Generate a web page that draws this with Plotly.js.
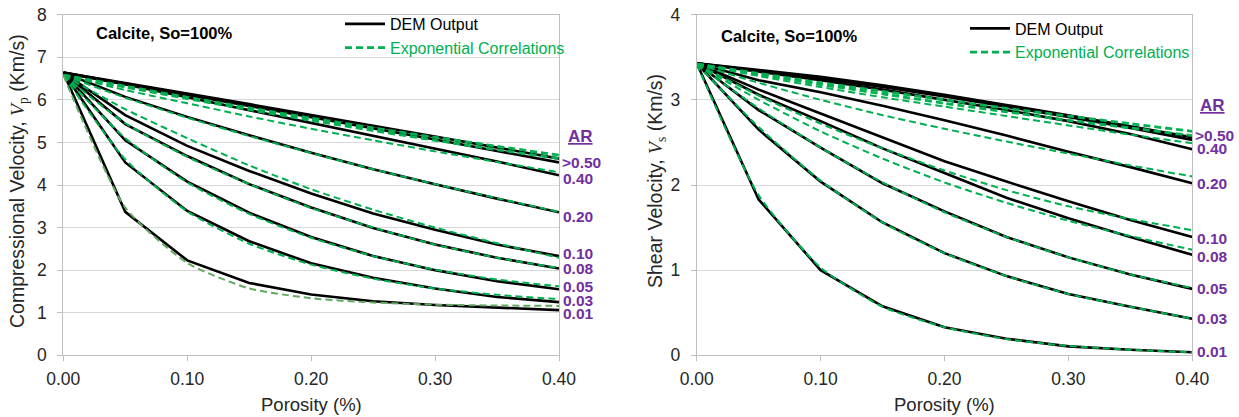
<!DOCTYPE html>
<html>
<head>
<meta charset="utf-8">
<script src="https://cdn.plot.ly/plotly-3.0.1.min.js"></script>
<style>html,body{margin:0;padding:0;background:#fff;}#chart{width:1239px;height:417px;}</style>
</head>
<body>
<div id="chart"></div>
<script>
// ---------- data ----------
const porosity = [0, 0.05, 0.10, 0.15, 0.20, 0.25, 0.30, 0.35, 0.40];

// Compressional velocity, DEM output (km/s)
const vpDem_AR100 = [6.64, 6.40, 6.15, 5.90, 5.64, 5.39, 5.14, 4.88, 4.62];
const vpDem_AR050 = [6.64, 6.38, 6.12, 5.86, 5.60, 5.33, 5.07, 4.80, 4.53];
const vpDem_AR040 = [6.64, 6.36, 6.06, 5.76, 5.46, 5.16, 4.86, 4.55, 4.23];
const vpDem_AR020 = [6.64, 6.07, 5.60, 5.17, 4.76, 4.37, 4.02, 3.68, 3.36];
const vpDem_AR010 = [6.64, 5.64, 4.92, 4.33, 3.80, 3.33, 2.95, 2.60, 2.33];
const vpDem_AR008 = [6.64, 5.43, 4.68, 4.02, 3.47, 2.99, 2.60, 2.29, 2.04];
const vpDem_AR005 = [6.64, 5.05, 4.08, 3.35, 2.78, 2.33, 2.00, 1.74, 1.55];
const vpDem_AR003 = [6.64, 4.53, 3.39, 2.68, 2.16, 1.82, 1.57, 1.37, 1.25];
const vpDem_AR001 = [6.64, 3.37, 2.23, 1.70, 1.43, 1.27, 1.18, 1.12, 1.06];

// Compressional velocity, exponential correlations (km/s)
const vpExp_AR100 = [6.58, 6.32, 6.06, 5.81, 5.57, 5.34, 5.12, 4.91, 4.70];
const vpExp_AR050 = [6.58, 6.30, 6.03, 5.77, 5.52, 5.28, 5.05, 4.83, 4.62];
const vpExp_AR040 = [6.58, 6.23, 5.92, 5.61, 5.32, 5.05, 4.79, 4.54, 4.30];
const vpExp_AR020 = [6.58, 6.05, 5.58, 5.15, 4.75, 4.37, 4.02, 3.69, 3.37];
const vpExp_AR010 = [6.58, 5.78, 5.10, 4.46, 3.90, 3.42, 3.00, 2.63, 2.29];
const vpExp_AR008 = [6.58, 5.45, 4.66, 4.02, 3.46, 3.00, 2.60, 2.29, 2.05];
const vpExp_AR005 = [6.58, 5.10, 4.06, 3.32, 2.76, 2.33, 2.01, 1.78, 1.62];
const vpExp_AR003 = [6.58, 4.60, 3.38, 2.62, 2.13, 1.80, 1.57, 1.42, 1.32];
const vpExp_AR001 = [6.58, 3.47, 2.17, 1.57, 1.34, 1.24, 1.19, 1.17, 1.16];

// Shear velocity, DEM output (km/s)
const vsDem_AR100 = [3.43, 3.35, 3.27, 3.17, 3.06, 2.94, 2.82, 2.69, 2.56];
const vsDem_AR050 = [3.43, 3.34, 3.25, 3.15, 3.04, 2.92, 2.80, 2.67, 2.53];
const vsDem_AR040 = [3.43, 3.33, 3.23, 3.12, 3.00, 2.88, 2.75, 2.60, 2.42];
const vsDem_AR020 = [3.43, 3.23, 3.09, 2.93, 2.76, 2.58, 2.39, 2.21, 2.02];
const vsDem_AR010 = [3.43, 3.12, 2.84, 2.56, 2.28, 2.04, 1.81, 1.59, 1.39];
const vsDem_AR008 = [3.43, 3.06, 2.75, 2.43, 2.14, 1.85, 1.61, 1.39, 1.18];
const vsDem_AR005 = [3.43, 2.88, 2.44, 2.02, 1.69, 1.39, 1.15, 0.95, 0.78];
const vsDem_AR003 = [3.43, 2.65, 2.04, 1.56, 1.20, 0.93, 0.72, 0.57, 0.43];
const vsDem_AR001 = [3.43, 1.83, 1.00, 0.575, 0.33, 0.195, 0.105, 0.065, 0.035];

// Shear velocity, exponential correlations (km/s)
const vsExp_AR100 = [3.42, 3.31, 3.20, 3.10, 3.00, 2.90, 2.81, 2.72, 2.63];
const vsExp_AR050 = [3.42, 3.30, 3.18, 3.07, 2.96, 2.86, 2.76, 2.67, 2.58];
const vsExp_AR040 = [3.42, 3.28, 3.15, 3.03, 2.92, 2.81, 2.70, 2.59, 2.49];
const vsExp_AR020 = [3.42, 3.20, 3.00, 2.82, 2.66, 2.51, 2.37, 2.23, 2.10];
const vsExp_AR010 = [3.42, 3.05, 2.72, 2.43, 2.17, 1.94, 1.75, 1.60, 1.47];
const vsExp_AR008 = [3.42, 3.00, 2.63, 2.31, 2.03, 1.79, 1.58, 1.40, 1.24];
const vsExp_AR005 = [3.42, 2.90, 2.44, 2.03, 1.68, 1.39, 1.15, 0.95, 0.79];
const vsExp_AR003 = [3.42, 2.68, 2.05, 1.56, 1.20, 0.93, 0.72, 0.57, 0.43];
const vsExp_AR001 = [3.42, 1.88, 1.03, 0.57, 0.33, 0.19, 0.11, 0.065, 0.035];

const arLabels = ['>0.50', '0.40', '0.20', '0.10', '0.08', '0.05', '0.03', '0.01'];
const vpLabelY = [4.54, 4.15, 3.27, 2.40, 2.04, 1.61, 1.29, 0.98];
const vsLabelY = [2.585, 2.43, 2.02, 1.374, 1.158, 0.788, 0.436, 0.045];

// ---------- styling ----------
const GREEN = '#00b050';
const GREEN_DARK = '#62a862';
const PURPLE = '#7030a0';
const SANS = '"Liberation Sans", Arial, sans-serif';

const vpDem = [vpDem_AR100, vpDem_AR050, vpDem_AR040, vpDem_AR020, vpDem_AR010, vpDem_AR008, vpDem_AR005, vpDem_AR003, vpDem_AR001];
const vpExp = [vpExp_AR100, vpExp_AR050, vpExp_AR040, vpExp_AR020, vpExp_AR010, vpExp_AR008, vpExp_AR005, vpExp_AR003, vpExp_AR001];
const vsDem = [vsDem_AR100, vsDem_AR050, vsDem_AR040, vsDem_AR020, vsDem_AR010, vsDem_AR008, vsDem_AR005, vsDem_AR003, vsDem_AR001];
const vsExp = [vsExp_AR100, vsExp_AR050, vsExp_AR040, vsExp_AR020, vsExp_AR010, vsExp_AR008, vsExp_AR005, vsExp_AR003, vsExp_AR001];

const traces = [];
function addSet(dem, exp, xa, ya, lg, darkLast) {
  dem.forEach((vals, i) => {
    traces.push({
      x: porosity, y: vals, xaxis: xa, yaxis: ya, type: 'scatter', mode: 'lines',
      line: {color: '#000000', width: 2.6},
      name: 'DEM Output', legend: lg, showlegend: i === 0, hoverinfo: 'skip'
    });
  });
  exp.forEach((vals, i) => {
    const col = (darkLast && i === exp.length - 1) ? GREEN_DARK : GREEN;
    traces.push({
      x: porosity, y: vals, xaxis: xa, yaxis: ya, type: 'scatter', mode: 'lines',
      line: {color: col, width: (i < 2 ? 2.8 : 2), dash: '7px,4px', shape: 'spline', smoothing: 0.6},
      name: '<span style="color:' + GREEN + '">Exponential Correlations</span>',
      legend: lg, showlegend: i === 0, hoverinfo: 'skip'
    });
  });
}
addSet(vpDem, vpExp, 'x', 'y', 'legend', true);
addSet(vsDem, vsExp, 'x2', 'y2', 'legend2', false);

const W = 1239, H = 417;
const px = v => v / W, py = v => 1 - v / H;

const axisCommon = {
  showline: true, linecolor: '#bfbfbf', linewidth: 1, mirror: true,
  ticks: 'outside', ticklen: 5, tickcolor: '#bfbfbf', tickwidth: 1,
  zeroline: false, tickfont: {family: SANS, size: 17.5, color: '#262626'}
};
const xCommon = Object.assign({}, axisCommon, {range: [0, 0.4], dtick: 0.1, tick0: 0, tickformat: '.2f', showgrid: false, ticklabelstandoff: 3});
const yCommon = Object.assign({}, axisCommon, {dtick: 1, tick0: 0, showgrid: true, gridcolor: '#d9d9d9', gridwidth: 1, ticklabelstandoff: 7});

const annotations = [];
function txt(x, y, text, opts) {
  annotations.push(Object.assign({xref: 'paper', yref: 'paper', x: px(x), y: py(y), text: text, showarrow: false,
    xanchor: 'center', yanchor: 'middle'}, opts));
}
// axis titles
txt(18, 181, 'Compressional Velocity, <span style="font-family:\'Liberation Serif\',serif"><i>V</i><sub>p</sub></span> (Km/s)',
  {textangle: -90, font: {family: SANS, size: 19.5, color: '#262626'}});
txt(656, 181, 'Shear Velocity, <span style="font-family:\'Liberation Serif\',serif"><i>V</i><sub>s</sub></span> (Km/s)',
  {textangle: -90, font: {family: SANS, size: 19.5, color: '#262626'}});
txt(311, 404, 'Porosity (%)', {font: {family: SANS, size: 18.5, color: '#262626'}});
txt(944.5, 404, 'Porosity (%)', {font: {family: SANS, size: 18.5, color: '#262626'}});
// in-plot titles
txt(94, 33, '<b>Calcite, So=100%</b>', {xanchor: 'left', font: {family: SANS, size: 16.5, color: '#000'}});
txt(719, 36, '<b>Calcite, So=100%</b>', {xanchor: 'left', font: {family: SANS, size: 16.5, color: '#000'}});
// AR labels
txt(580, 137, '<b><u>AR</u></b>', {font: {family: SANS, size: 17, color: PURPLE}});
txt(1212, 106, '<b><u>AR</u></b>', {font: {family: SANS, size: 17, color: PURPLE}});
arLabels.forEach((lab, i) => {
  annotations.push({xref: 'x', yref: 'y', x: 0.4, y: vpLabelY[i], text: '<b>' + lab + '</b>', showarrow: false,
    xanchor: 'left', yanchor: 'middle', xshift: lab[0] === '>' ? 1 : 2, font: {family: SANS, size: 15.5, color: PURPLE}});
  annotations.push({xref: 'x2', yref: 'y2', x: 0.4, y: vsLabelY[i], text: '<b>' + lab + '</b>', showarrow: false,
    xanchor: 'left', yanchor: 'middle', xshift: lab[0] === '>' ? 1 : 3, font: {family: SANS, size: 15.5, color: PURPLE}});
});

const legendCommon = {
  bgcolor: 'rgba(0,0,0,0)', borderwidth: 0, xanchor: 'left', yanchor: 'top',
  font: {family: SANS, size: 16, color: '#000'}, itemwidth: 40, tracegroupgap: 0,
  itemclick: false, itemdoubleclick: false
};

const layout = {
  width: W, height: H,
  margin: {l: 0, r: 0, t: 0, b: 0},
  paper_bgcolor: '#ffffff', plot_bgcolor: '#ffffff',
  xaxis: Object.assign({}, xCommon, {domain: [px(63.3), px(559)], anchor: 'y'}),
  yaxis: Object.assign({}, yCommon, {domain: [py(355.3), py(14.7)], range: [0, 8], anchor: 'x'}),
  xaxis2: Object.assign({}, xCommon, {domain: [px(696.7), px(1192.3)], anchor: 'y2'}),
  yaxis2: Object.assign({}, yCommon, {domain: [py(355.3), py(14.7)], range: [0, 4], anchor: 'x2'}),
  legend: Object.assign({}, legendCommon, {x: px(340), y: py(7)}),
  legend2: Object.assign({}, legendCommon, {x: px(965), y: py(11.5)}),
  annotations: annotations,
  showlegend: true
};

Plotly.newPlot('chart', traces, layout, {staticPlot: true, displayModeBar: false});
</script>
</body>
</html>
